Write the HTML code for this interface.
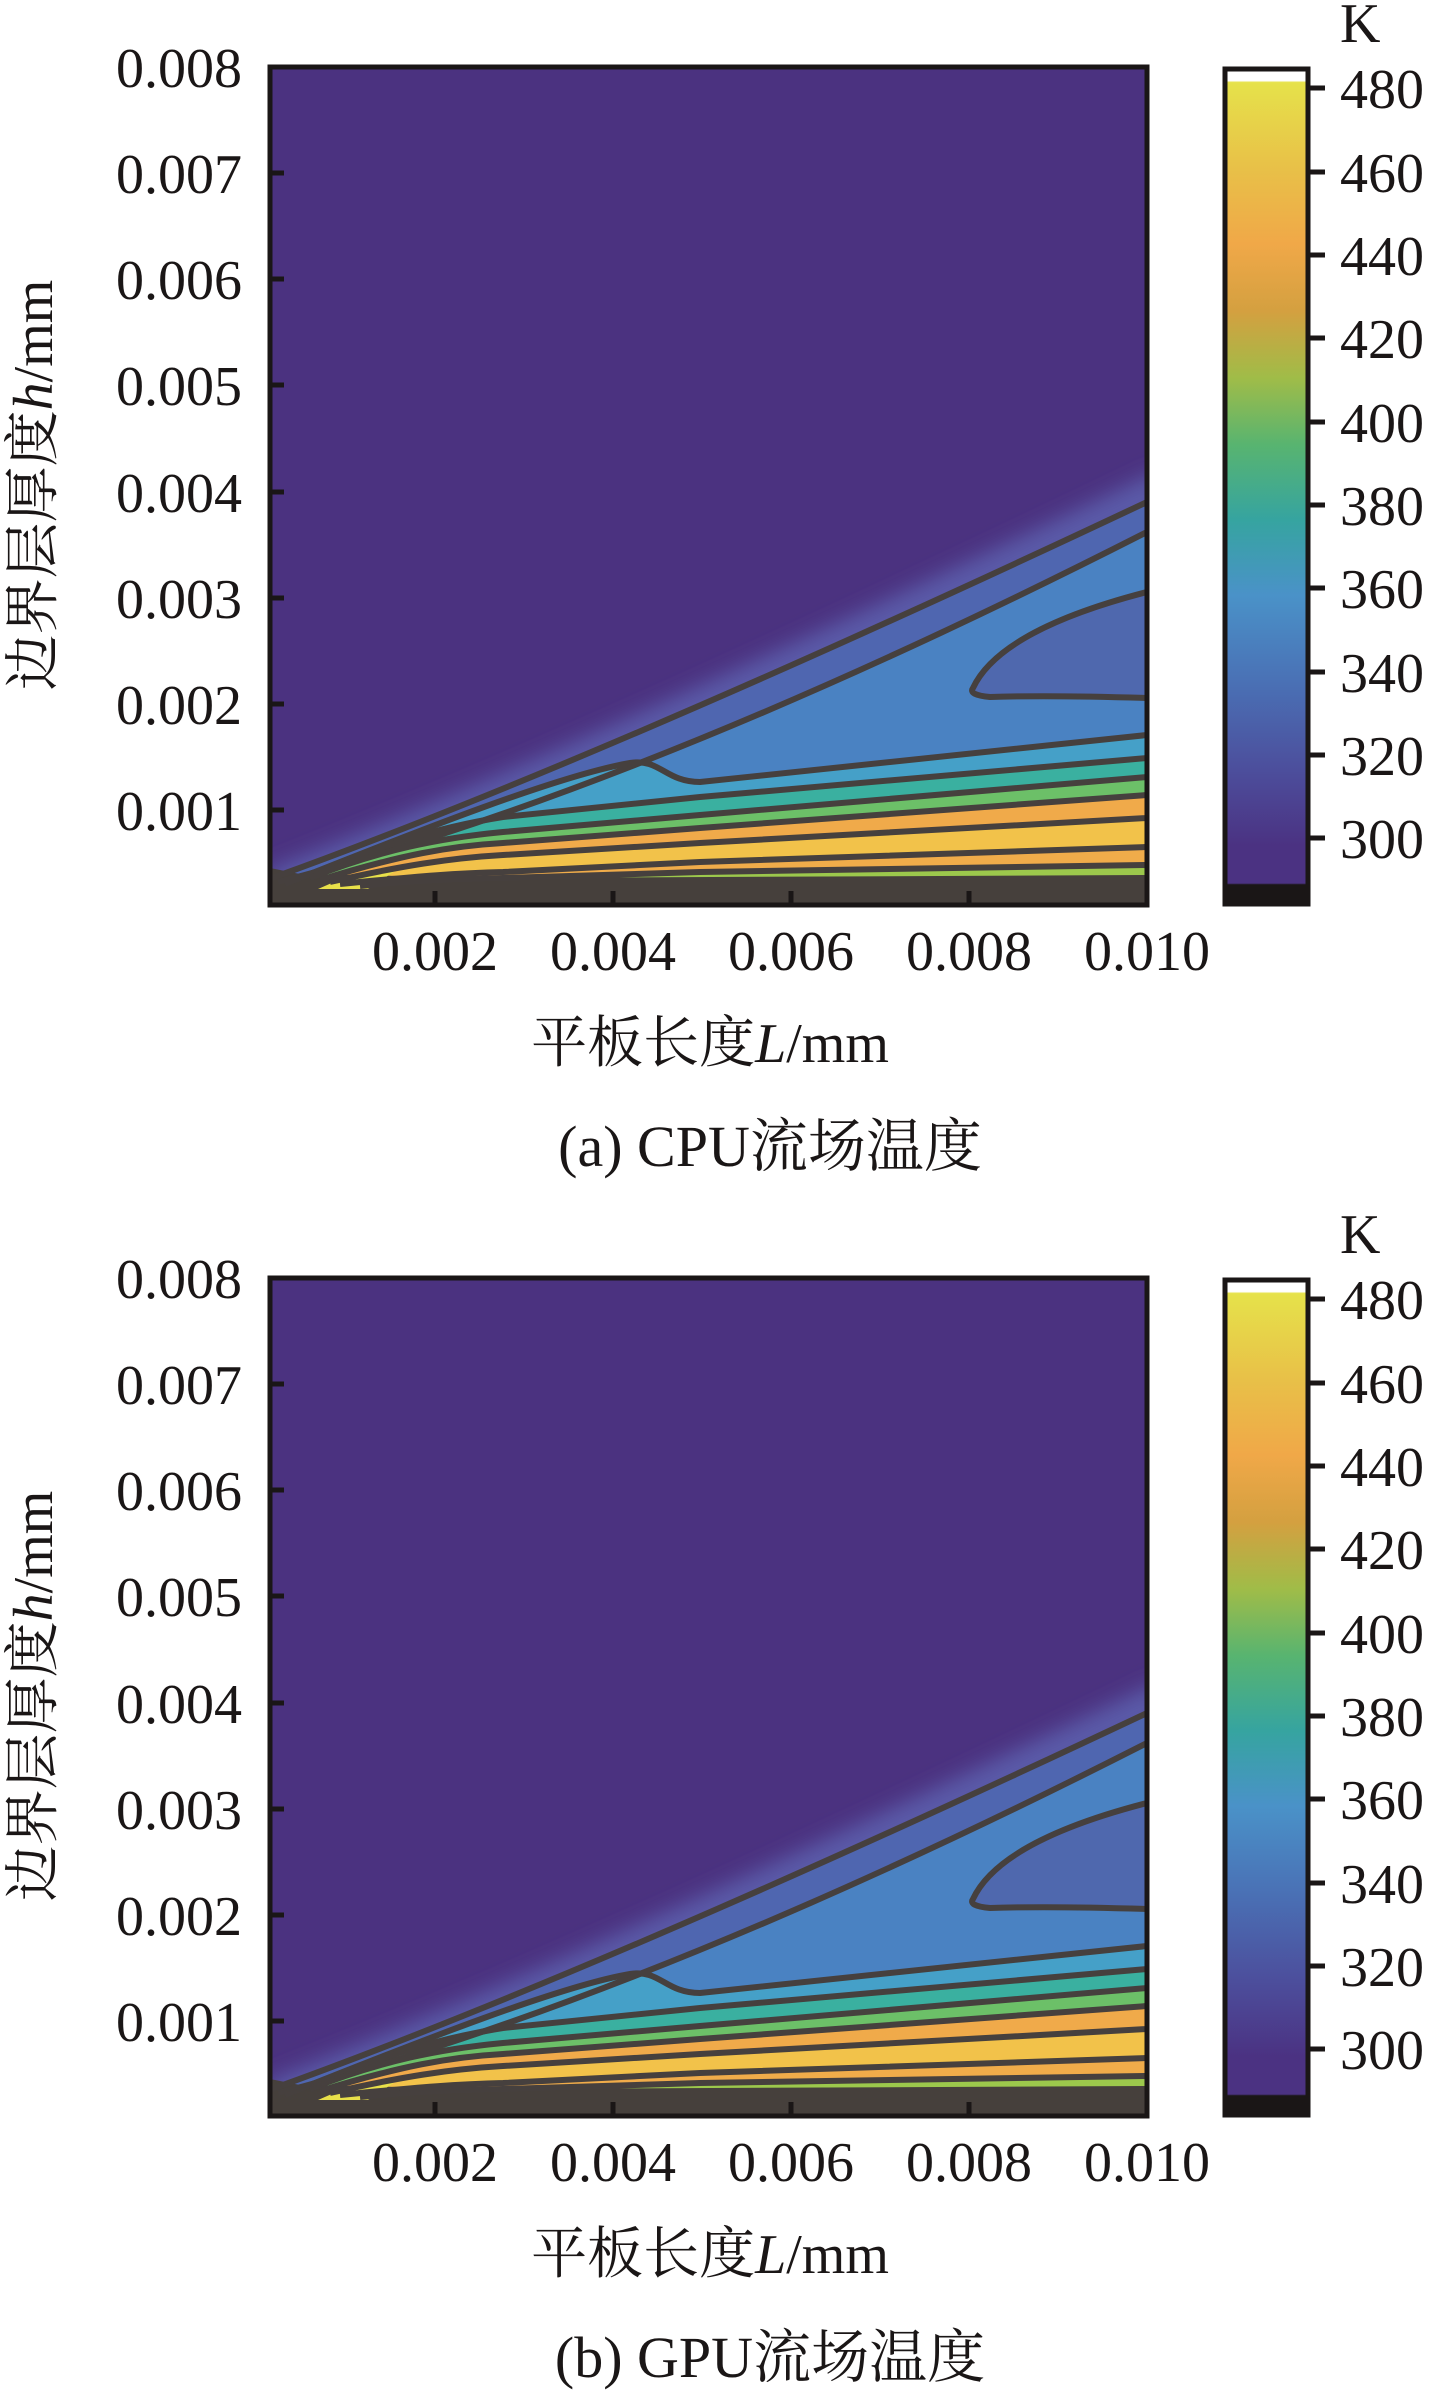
<!DOCTYPE html>
<html><head><meta charset="utf-8"><style>html,body{margin:0;padding:0;background:#fff}svg{display:block}</style></head>
<body>
<svg width="1432" height="2392" viewBox="0 0 1432 2392" xmlns="http://www.w3.org/2000/svg" font-family="'Liberation Serif','Noto Serif CJK SC',serif">
<defs>
<linearGradient id="cb" x1="0" y1="0" x2="0" y2="1">
<stop offset="0" stop-color="#ffffff"/><stop offset="0.014" stop-color="#ffffff"/>
<stop offset="0.016" stop-color="#e6e24a"/>
<stop offset="0.12" stop-color="#e8c048"/>
<stop offset="0.21" stop-color="#f0a848"/>
<stop offset="0.29" stop-color="#d4a040"/>
<stop offset="0.37" stop-color="#a0bc48"/>
<stop offset="0.45" stop-color="#58b470"/>
<stop offset="0.54" stop-color="#36a4a0"/>
<stop offset="0.63" stop-color="#4a92c8"/>
<stop offset="0.73" stop-color="#4a72b6"/>
<stop offset="0.84" stop-color="#4c4e9c"/>
<stop offset="0.93" stop-color="#4b3282"/>
<stop offset="0.975" stop-color="#4b3282"/>
<stop offset="0.977" stop-color="#1a1616"/><stop offset="1" stop-color="#1a1616"/>
</linearGradient>
<filter id="bl" x="-10%" y="-10%" width="120%" height="120%"><feGaussianBlur stdDeviation="10"/></filter>
<clipPath id="pc"><rect x="270" y="67" width="877" height="838"/></clipPath>
<g id="plot">
<g clip-path="url(#pc)">
<rect x="270" y="67" width="877" height="838" fill="#4b3280"/>
<path d="M268 870 Q600 740 1160 470 L1160 905 L268 905 Z" fill="#5a5aa8" filter="url(#bl)"/>
<path d="M272 878 Q600 760 1147 502 L1147 905 L270 905 Z" fill="#4f66b0"/>
<path d="M278 882 Q640 790 1147 532 L1147 905 L270 905 Z" fill="#4a82c2"/>
<path d="M973 688 Q1000 630 1147 592 L1147 698 Q1050 695 990 697 Q968 695 973 688 Z" fill="#4f68ae"/>
<path d="M285 884 C420 830 560 775 630 763 C660 758 665 782 700 782 L1147 735 L1147 905 L270 905 Z" fill="#45a0c8"/>
<path d="M300 878 C360 855 420 830 503 817 L700 797 L1147 758 L1147 905 L270 905 Z" fill="#3ab0a0"/>
<path d="M310 878 C380 850 440 838 503 832 L700 815 L1147 777 L1147 905 L270 905 Z" fill="#6cc068"/>
<path d="M320 880 C400 855 450 846 503 843 L700 828 L1147 795 L1147 905 L270 905 Z" fill="#f0aa4a"/>
<path d="M330 882 C400 866 450 858 503 855 L700 843 L1147 818 L1147 905 L270 905 Z" fill="#f2c24a"/>
<path d="M340 884 C420 876 460 873 503 872 L700 862 L1147 847 L1147 905 L270 905 Z" fill="#f0ac4a"/>
<path d="M360 886 C420 880 460 879 503 878 L700 872 L1147 865 L1147 905 L270 905 Z" fill="#9cc84c"/>
<path d="M270 868 L300 874 L500 878 L1147 875 L1147 905 L270 905 Z" fill="#46403c"/>
<path d="M318 889 L350 875 L395 871 L368 889 Z" fill="#e8e04a"/>
<g fill="none" stroke="#46403e" stroke-width="6" stroke-linejoin="round">
<path d="M272 878 Q600 760 1147 502"/>
<path d="M278 882 Q640 790 1147 532"/>
<path d="M1147 592 Q1000 630 973 688 Q968 695 990 697 Q1050 695 1147 698"/>
<path d="M285 884 C420 830 560 775 630 763 C660 758 665 782 700 782 L1147 735"/>
<path d="M300 878 C360 855 420 830 503 817 L700 797 L1147 758"/>
<path d="M310 878 C380 850 440 838 503 832 L700 815 L1147 777"/>
<path d="M320 880 C400 855 450 846 503 843 L700 828 L1147 795"/>
<path d="M330 882 C400 866 450 858 503 855 L700 843 L1147 818"/>
<path d="M340 884 C420 876 460 873 503 872 L700 862 L1147 847"/>
<path d="M360 886 C420 880 460 879 503 878 L700 872 L1147 865"/>
</g>
</g>
<rect x="270" y="67" width="877" height="838" fill="none" stroke="#1a1616" stroke-width="5"/>
<g stroke="#1a1616" stroke-width="5">
<line x1="270" y1="173" x2="284" y2="173"/><line x1="270" y1="279" x2="284" y2="279"/><line x1="270" y1="385" x2="284" y2="385"/><line x1="270" y1="492" x2="284" y2="492"/><line x1="270" y1="598" x2="284" y2="598"/><line x1="270" y1="704" x2="284" y2="704"/><line x1="270" y1="810" x2="284" y2="810"/>
<line x1="435" y1="905" x2="435" y2="891"/><line x1="613" y1="905" x2="613" y2="891"/><line x1="791" y1="905" x2="791" y2="891"/><line x1="969" y1="905" x2="969" y2="891"/>
<line x1="1310" y1="88" x2="1325" y2="88"/><line x1="1310" y1="172" x2="1325" y2="172"/><line x1="1310" y1="255" x2="1325" y2="255"/><line x1="1310" y1="338" x2="1325" y2="338"/><line x1="1310" y1="422" x2="1325" y2="422"/><line x1="1310" y1="505" x2="1325" y2="505"/><line x1="1310" y1="588" x2="1325" y2="588"/><line x1="1310" y1="672" x2="1325" y2="672"/><line x1="1310" y1="755" x2="1325" y2="755"/><line x1="1310" y1="838" x2="1325" y2="838"/>
</g>
<rect x="1225" y="69" width="83" height="835" fill="url(#cb)" stroke="#1a1616" stroke-width="5"/>
<g font-size="56" fill="#1a1616">
<g text-anchor="end">
<text x="242" y="87">0.008</text><text x="242" y="193">0.007</text><text x="242" y="299">0.006</text><text x="242" y="405">0.005</text><text x="242" y="512">0.004</text><text x="242" y="618">0.003</text><text x="242" y="724">0.002</text><text x="242" y="830">0.001</text>
</g>
<g text-anchor="middle">
<text x="435" y="970">0.002</text><text x="613" y="970">0.004</text><text x="791" y="970">0.006</text><text x="969" y="970">0.008</text><text x="1147" y="970">0.010</text>
</g>
<text x="1340" y="108">480</text><text x="1340" y="192">460</text><text x="1340" y="275">440</text><text x="1340" y="358">420</text><text x="1340" y="442">400</text><text x="1340" y="525">380</text><text x="1340" y="608">360</text><text x="1340" y="692">340</text><text x="1340" y="775">320</text><text x="1340" y="858">300</text>
<text x="1340" y="42">K</text>
<text x="710" y="1062" text-anchor="middle" font-size="56">平板长度<tspan font-style="italic">L</tspan>/mm</text>
<text transform="translate(52,485) rotate(-90)" text-anchor="middle" font-size="56">边界层厚度<tspan font-style="italic">h</tspan>/mm</text>
</g>
</g>
</defs>
<use href="#plot"/>
<text x="770" y="1166" text-anchor="middle" font-size="58" fill="#1a1616">(a) CPU流场温度</text>
<use href="#plot" transform="translate(0,1211)"/>
<text x="770" y="2377" text-anchor="middle" font-size="58" fill="#1a1616">(b) GPU流场温度</text>
</svg>
</body></html>
